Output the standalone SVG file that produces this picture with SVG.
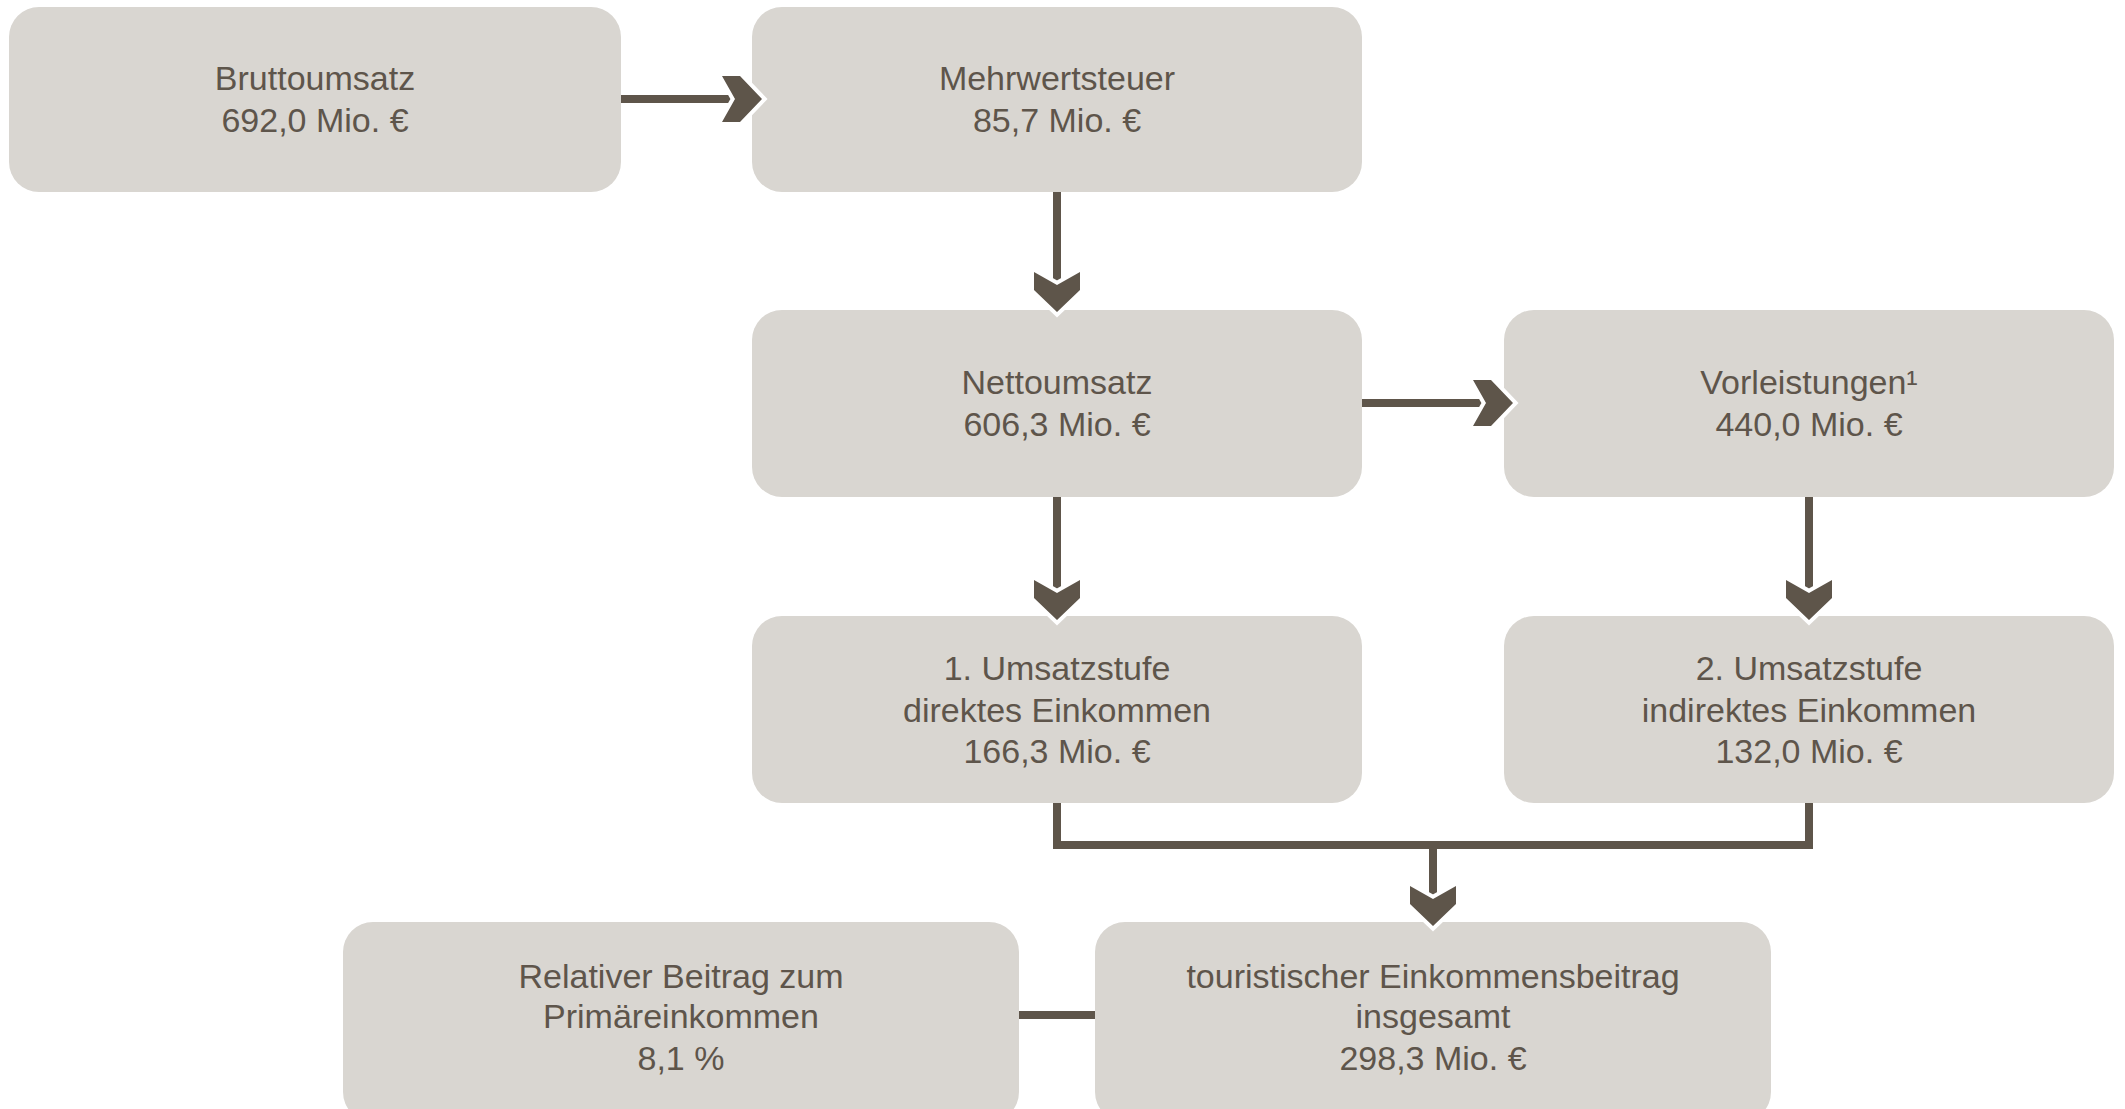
<svg xmlns="http://www.w3.org/2000/svg" xmlns:xlink="http://www.w3.org/1999/xlink" width="2125" height="1109" viewBox="0 0 2125 1109">
<style>
.node rect{fill:#D9D6D1;}
.node text{font-family:"Liberation Sans",Arial,sans-serif;font-size:34px;fill:#5E554B;text-anchor:middle;}
.conn line,.conn polyline{stroke:#5E554A;stroke-width:8;fill:none;}
.chev{fill:#5E554A;stroke:#FFFFFF;stroke-width:8;stroke-linejoin:miter;paint-order:stroke;}
</style>
<defs>
<path id="chev" d="M-40,-23 L-22,-23 L0,0 L-22,23 L-40,23 L-27,0 Z"/>
</defs>
<rect width="2125" height="1109" fill="#FFFFFF"/>
<g id="n1" class="node"><rect x="9" y="7" width="612" height="185" rx="30"/><text x="315" y="90">Bruttoumsatz</text><text x="315" y="132">692,0 Mio. €</text></g>
<g id="n2" class="node"><rect x="752" y="7" width="610" height="185" rx="30"/><text x="1057" y="90">Mehrwertsteuer</text><text x="1057" y="132">85,7 Mio. €</text></g>
<g id="n3" class="node"><rect x="752" y="310" width="610" height="187" rx="30"/><text x="1057" y="394">Nettoumsatz</text><text x="1057" y="436">606,3 Mio. €</text></g>
<g id="n4" class="node"><rect x="1504" y="310" width="610" height="187" rx="30"/><text x="1809" y="394">Vorleistungen¹</text><text x="1809" y="436">440,0 Mio. €</text></g>
<g id="n5" class="node"><rect x="752" y="616" width="610" height="187" rx="30"/><text x="1057" y="680">1. Umsatzstufe</text><text x="1057" y="722">direktes Einkommen</text><text x="1057" y="763">166,3 Mio. €</text></g>
<g id="n6" class="node"><rect x="1504" y="616" width="610" height="187" rx="30"/><text x="1809" y="680">2. Umsatzstufe</text><text x="1809" y="722">indirektes Einkommen</text><text x="1809" y="763">132,0 Mio. €</text></g>
<g id="n7" class="node"><rect x="343" y="922" width="676" height="200" rx="30"/><text x="681" y="988">Relativer Beitrag zum</text><text x="681" y="1028">Primäreinkommen</text><text x="681" y="1070">8,1 %</text></g>
<g id="n8" class="node"><rect x="1095" y="922" width="676" height="200" rx="30"/><text x="1433" y="988">touristischer Einkommensbeitrag</text><text x="1433" y="1028">insgesamt</text><text x="1433" y="1070">298,3 Mio. €</text></g>
<g id="connectors" class="conn">
<line x1="621" y1="99" x2="735" y2="99"/>
<use href="#chev" xlink:href="#chev" class="chev" transform="translate(762,99)"/>
<line x1="1057" y1="192" x2="1057" y2="286"/>
<use href="#chev" xlink:href="#chev" class="chev" transform="translate(1057,312) rotate(90)"/>
<line x1="1362" y1="403" x2="1486" y2="403"/>
<use href="#chev" xlink:href="#chev" class="chev" transform="translate(1513,403)"/>
<line x1="1057" y1="497" x2="1057" y2="594"/>
<use href="#chev" xlink:href="#chev" class="chev" transform="translate(1057,620) rotate(90)"/>
<line x1="1809" y1="497" x2="1809" y2="594"/>
<use href="#chev" xlink:href="#chev" class="chev" transform="translate(1809,620) rotate(90)"/>
<polyline points="1057,803 1057,845 1809,845 1809,803"/>
<line x1="1433" y1="845" x2="1433" y2="900"/>
<use href="#chev" xlink:href="#chev" class="chev" transform="translate(1433,926) rotate(90)"/>
<line x1="1019" y1="1015" x2="1095" y2="1015"/>
</g>
</svg>
